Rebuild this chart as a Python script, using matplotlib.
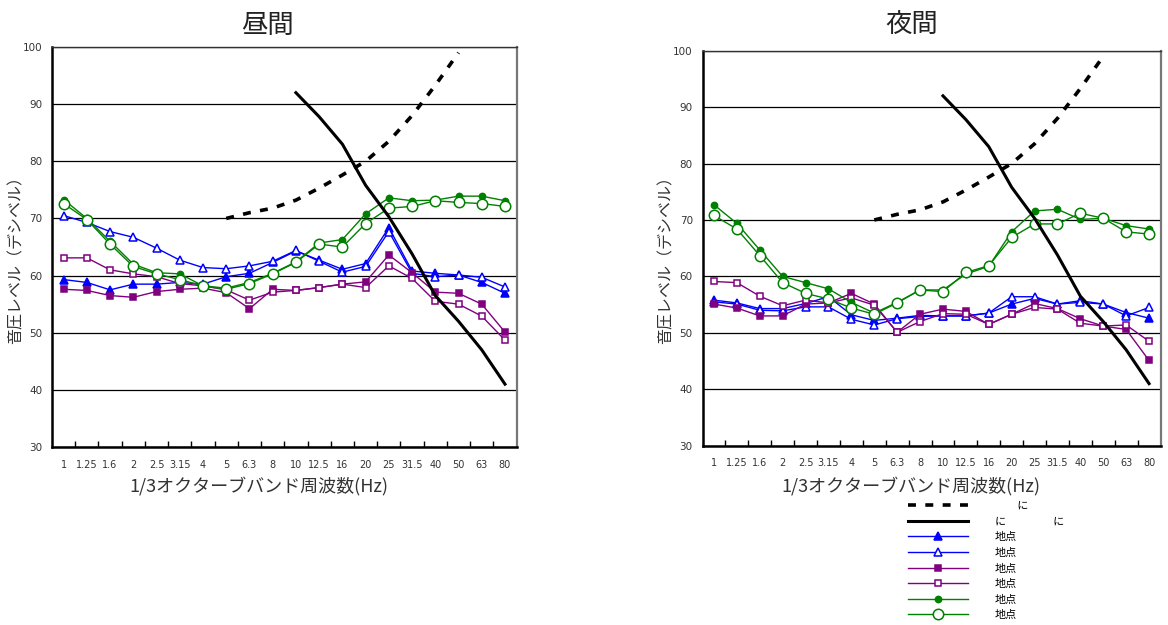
import numpy as np
import matplotlib
matplotlib.use("Agg")
import matplotlib.pyplot as plt
from matplotlib.lines import Line2D

plt.rcParams['font.family'] = ['Noto Sans CJK JP', 'DejaVu Sans']

# 1/3 octave band centre frequencies (Hz)
bands = ['1', '1.25', '1.6', '2', '2.5', '3.15', '4', '5', '6.3', '8',
         '10', '12.5', '16', '20', '25', '31.5', '40', '50', '63', '80']

# Reference curves (dB); None where the curve is not defined
limit_dashed = [None] * 7 + [70.0, 71.0, 71.8, 73.2, 75.3, 77.6, 80.0, 83.5,
                             88.0, 93.3, 99.0] + [None] * 2
limit_solid = [None] * 10 + [92.0, 87.8, 83.0, 75.8, 70.3, 63.8, 56.5, 52.0,
                             47.0, 41.0]

# Daytime measurements (dB)
day_a_filled = [59.3, 58.8, 57.5, 58.5, 58.5, 58.8, 58.5, 59.8, 60.4, 62.3,
                64.3, 62.7, 61.1, 62.1, 68.4, 60.8, 60.4, 60.1, 58.8, 56.9]
day_a_open = [70.5, 69.3, 67.7, 66.7, 64.8, 62.7, 61.4, 61.2, 61.7, 62.5,
              64.4, 62.5, 60.6, 61.6, 67.7, 60.4, 59.8, 60.1, 59.7, 58.0]
day_b_filled = [57.6, 57.4, 56.5, 56.2, 57.2, 57.6, 57.8, 57.0, 54.2, 57.6,
                57.4, 57.9, 58.5, 58.9, 63.6, 60.5, 57.1, 56.9, 55.0, 50.1]
day_b_open = [63.1, 63.1, 61.0, 60.3, 59.8, 58.6, 58.2, 57.5, 55.7, 57.1,
              57.4, 57.9, 58.5, 57.9, 61.7, 59.5, 55.5, 55.0, 52.9, 48.7]
day_c_filled = [73.3, 70.0, 66.0, 62.0, 60.5, 60.3, 58.2, 57.8, 58.8, 60.4,
                62.4, 65.7, 66.3, 70.8, 73.6, 73.1, 73.2, 73.9, 73.9, 73.1]
day_c_open = [72.6, 69.8, 65.5, 61.6, 60.3, 59.3, 58.2, 57.6, 58.6, 60.3,
              62.3, 65.5, 65.0, 69.1, 71.8, 72.1, 73.1, 72.8, 72.6, 72.1]

# Night-time measurements (dB)
night_a_filled = [55.8, 55.3, 54.3, 54.3, 55.2, 56.4, 53.2, 52.2, 52.6, 53.1,
                  53.0, 53.0, 53.5, 55.1, 56.1, 55.1, 55.7, 55.1, 53.6, 52.6]
night_a_open = [55.5, 55.1, 54.0, 53.9, 54.6, 54.6, 52.4, 51.4, 52.5, 52.9,
                53.0, 53.0, 53.5, 56.4, 56.4, 55.1, 55.4, 55.1, 53.0, 54.5]
night_b_filled = [55.1, 54.4, 53.0, 53.0, 55.1, 55.3, 57.0, 55.1, 50.1, 53.3,
                  54.2, 53.8, 51.5, 53.3, 55.2, 54.3, 52.5, 51.2, 50.6, 45.1]
night_b_open = [59.1, 58.9, 56.5, 54.8, 55.8, 55.3, 56.2, 54.9, 50.1, 52.0,
                53.4, 53.3, 51.5, 53.3, 54.5, 54.2, 51.7, 51.2, 51.4, 48.5]
night_c_filled = [72.7, 69.4, 64.7, 60.0, 58.9, 57.8, 55.4, 53.5, 55.4, 57.6,
                  57.6, 60.4, 61.8, 67.9, 71.6, 71.9, 70.1, 70.3, 69.0, 68.4]
night_c_open = [70.8, 68.4, 63.7, 58.9, 57.0, 56.0, 54.4, 53.3, 55.3, 57.6,
                57.3, 60.7, 61.9, 66.9, 69.3, 69.3, 71.2, 70.3, 67.9, 67.5]

panel_titles = ['昼間', '夜間']
ylabel_text = '音圧レベル（デシベル）'
xlabel_text = '1/3オクターブバンド周波数(Hz)'
legend_labels = ['　　に', 'に　　　　 に', '地点', '地点', '地点', '地点', '地点', '地点']

BLUE, PURPLE, GREEN = '#0000FF', '#800080', '#008000'
series_styles = [
    dict(color=BLUE, marker='^', ms=5.5, mfc=BLUE),
    dict(color=BLUE, marker='^', ms=5.5, mfc='white'),
    dict(color=PURPLE, marker='s', ms=4.5, mfc=PURPLE),
    dict(color=PURPLE, marker='s', ms=4.5, mfc='white'),
    dict(color=GREEN, marker='o', ms=4.5, mfc=GREEN),
    dict(color=GREEN, marker='o', ms=7.5, mfc='white'),
]

W, H = 1168, 625
fig = plt.figure(figsize=(W / 100, H / 100), dpi=100)


def fig_rect(left, top, right, bottom):
    return [left / W, 1 - bottom / H, (right - left) / W, (bottom - top) / H]


ax_day = fig.add_axes(fig_rect(52, 47, 516.6, 447))
ax_night = fig.add_axes(fig_rect(702.5, 50.7, 1160.5, 445.7))

# axes, series, title centre x (px), y-label coords, x-label coords
panels = [
    (ax_day, [day_a_filled, day_a_open, day_b_filled, day_b_open,
              day_c_filled, day_c_open], 268,
     (-0.058, 0.478), ((259 - 52) / (516.6 - 52), -0.075)),
    (ax_night, [night_a_filled, night_a_open, night_b_filled, night_b_open,
                night_c_filled, night_c_open], 912,
     (-0.06, 0.48), ((911 - 702.5) / (1160.5 - 702.5), -0.08)),
]

x = np.arange(len(bands))
for i, (ax, series, title_x, ylab_xy, xlab_xy) in enumerate(panels):
    ax.set_xlim(-0.5, len(bands) - 0.5)
    ax.set_ylim(30, 100)
    ax.set_yticks(np.arange(30, 101, 10))
    ax.yaxis.grid(True, color='black', lw=0.9)
    ax.set_axisbelow(True)

    for vals, st in zip(series, series_styles):
        ax.plot(x, vals, color=st['color'], lw=1.0, marker=st['marker'],
                ms=st['ms'], mfc=st['mfc'], mec=st['color'], mew=1.1,
                zorder=3)

    ax.plot(x, np.array(limit_dashed, dtype=float), color='black', lw=2.6,
            dashes=(2.2, 2.6), zorder=4)
    ax.plot(x, np.array(limit_solid, dtype=float), color='black', lw=2.2,
            zorder=4)

    ax.set_xticks(x)
    ax.set_xticklabels(bands, fontsize=7, color='#333333',
                       family=['DejaVu Sans'])
    ax.set_xticks(np.arange(0.5, len(bands) - 1, 1.0), minor=True)
    ax.tick_params(axis='x', which='major', length=0, pad=9)
    ax.tick_params(axis='x', which='minor', direction='in', length=4,
                   width=1.0, color='black')
    ax.tick_params(axis='y', length=0, pad=7, labelsize=7.5,
                   labelcolor='#333333')
    for lab in ax.get_yticklabels():
        lab.set_family(['DejaVu Sans'])

    for side in ('left', 'bottom'):
        ax.spines[side].set_linewidth(1.8)
        ax.spines[side].set_color('black')
    ax.spines['top'].set_linewidth(1.0)
    ax.spines['top'].set_color('#333333')
    ax.spines['right'].set_linewidth(1.6)
    ax.spines['right'].set_color('#777777')

    ax.set_ylabel(ylabel_text, fontsize=11.5, color='#333333')
    ax.yaxis.set_label_coords(*ylab_xy)
    ax.set_xlabel(xlabel_text, fontsize=13, color='#333333')
    ax.xaxis.set_label_coords(*xlab_xy)
    fig.text(title_x / W, 1 - 25 / H, panel_titles[i], fontsize=19,
             ha='center', va='center', color='#222222')

handles = [
    Line2D([], [], color='black', lw=2.6, dashes=(2.2, 2.6)),
    Line2D([], [], color='black', lw=2.2),
]
for st in series_styles:
    handles.append(Line2D([], [], color=st['color'], lw=1.0,
                          marker=st['marker'], ms=st['ms'], mfc=st['mfc'],
                          mec=st['color'], mew=1.1))

fig.legend(handles, legend_labels, loc='upper left',
           bbox_to_anchor=(908 / W, 1 - 501 / H), frameon=False,
           fontsize=8, handlelength=5.4, handletextpad=2.4,
           labelspacing=0.5, borderpad=0, borderaxespad=0, numpoints=1)

fig.savefig('out.png', dpi=100)
